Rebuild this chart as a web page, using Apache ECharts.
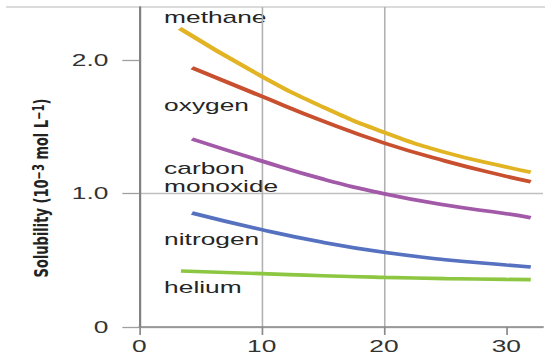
<!DOCTYPE html>
<html><head><meta charset="utf-8">
<script src="https://cdn.jsdelivr.net/npm/echarts@6/dist/echarts.min.js"></script>
<style>
html,body{margin:0;padding:0;background:#fff;overflow:hidden;width:545px;height:358px}
#c{width:352px;height:358px;transform:scaleX(1.5483);transform-origin:0 0}
</style></head><body><div id="c"></div>
<script>
// ---- data ----
const xTickValues = [0, 10, 20, 30];
const yTickValues = [0, 1, 2];
const gasNames = ['methane', 'oxygen', 'carbon monoxide', 'nitrogen', 'helium'];
const methaneT = [3.3, 10, 15, 20, 25, 30, 32];
const methaneS = [2.24, 1.88, 1.65, 1.46, 1.31, 1.20, 1.16];
const oxygenT = [4.3, 10, 15, 20, 25, 30, 32];
const oxygenS = [1.945, 1.73, 1.545, 1.38, 1.245, 1.13, 1.09];
const coT = [4.3, 10, 15, 20, 25, 30, 32];
const coS = [1.41, 1.245, 1.11, 1.0, 0.915, 0.85, 0.82];
const nitrogenT = [4.3, 10, 15, 20, 25, 30, 32];
const nitrogenS = [0.855, 0.73, 0.635, 0.56, 0.505, 0.465, 0.45];
const heliumT = [3.4, 10, 15, 20, 25, 30, 32];
const heliumS = [0.42, 0.40, 0.384, 0.372, 0.363, 0.357, 0.355];

// ---- styles ----
const colors = ['#e2b424', '#c9502f', '#a259a8', '#5571c0', '#8dc641'];
const labelPos = [[106, 17], [106, 105.7], [106, 177], [106, 239], [106, 287.3]];
const labelText = ['methane', 'oxygen', 'carbon\nmonoxide', 'nitrogen', 'helium'];

const pairs = (t, s) => t.map((x, i) => [x, s[i]]);
const seriesData = [pairs(methaneT, methaneS), pairs(oxygenT, oxygenS), pairs(coT, coS),
                    pairs(nitrogenT, nitrogenS), pairs(heliumT, heliumS)];

const chart = echarts.init(document.getElementById('c'), null, {renderer: 'svg'});
const font = 'Liberation Sans, Arial, sans-serif';
chart.setOption({
  animation: false,
  grid: {left: 90, right: 1.3, top: 7, bottom: 31, containLabel: false},
  xAxis: {
    type: 'value', min: 0, max: 33, interval: 10,
    axisLine: {show: true, onZero: false, lineStyle: {color: '#8a8a8a', width: 1.6}},
    axisTick: {show: true, length: 8, customValues: xTickValues, lineStyle: {color: '#8a8a8a', width: 1.1}},
    axisLabel: {customValues: xTickValues, margin: 11, color: '#333', fontFamily: font, fontSize: 17,
      formatter: v => String(v)},
    splitLine: {show: true, showMaxLine: false, lineStyle: {color: '#b0b0b0', width: 1}}
  },
  yAxis: {
    type: 'value', min: 0, max: 2.4, interval: 1,
    name: 'Solubility (10{s|−3} mol L{s|−1})',
    nameLocation: 'middle', nameRotate: 90, nameGap: 57,
    nameTextStyle: {fontFamily: 'DejaVu Sans', fontWeight: 'bold', fontSize: 13, color: '#222',
      padding: [0, 42, 0, 0],
      rich: {s: {fontFamily: 'DejaVu Sans', fontWeight: 'bold', fontSize: 10, verticalAlign: 'top', color: '#222'}}},
    axisLine: {show: true, lineStyle: {color: '#808080', width: 1.4}},
    axisTick: {show: true, length: 11, customValues: yTickValues, lineStyle: {color: '#a0a0a0', width: 1.3}},
    axisLabel: {customValues: yTickValues, margin: 20, color: '#333', fontFamily: font, fontSize: 17,
      formatter: v => (v === 0 ? '0' : v.toFixed(1))},
    splitLine: {show: true, showMaxLine: false, lineStyle: {color: '#c0c0c0', width: 1.3}}
  },
  graphic: [
    {type: 'line', shape: {x1: 3.9, y1: 7, x2: 352, y2: 7}, style: {stroke: '#cfcfcf', lineWidth: 1.5}, z: 0}
  ].concat(labelText.map((t, i) => ({
    type: 'text', x: labelPos[i][0], y: labelPos[i][1],
    style: {text: t, font: '17px Liberation Sans, Arial, sans-serif', fill: '#252525',
            verticalAlign: 'middle', align: 'left', lineHeight: 17.7}
  }))),
  series: seriesData.map((d, i) => ({
    name: gasNames[i], type: 'line', data: d, smooth: 0.5, showSymbol: false,
    lineStyle: {color: colors[i], width: 3.6}, itemStyle: {color: colors[i]}
  }))
});
</script></body></html>
